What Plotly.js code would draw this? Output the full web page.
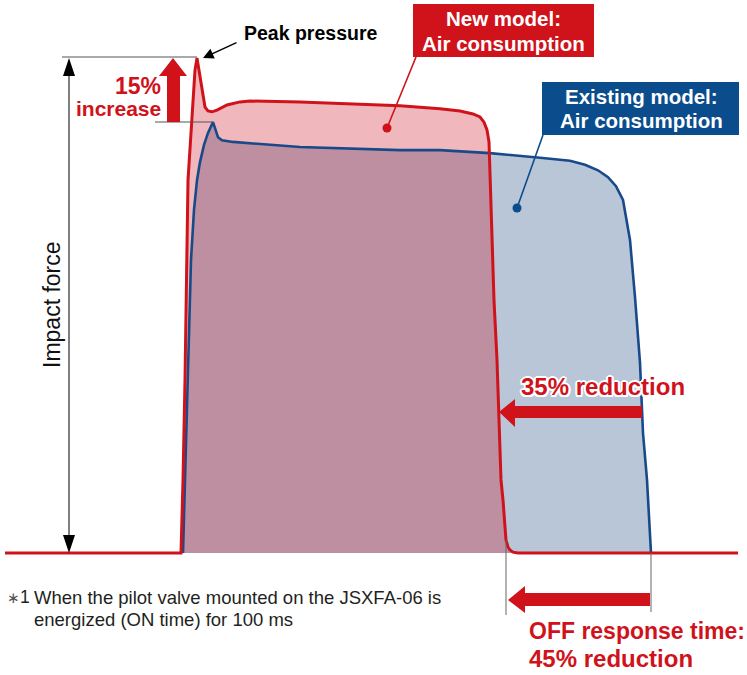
<!DOCTYPE html>
<html><head><meta charset="utf-8">
<script src="https://cdn.plot.ly/plotly-3.0.1.min.js"></script>
<style>html,body{margin:0;padding:0;background:#fff;}#chart{width:747px;height:675px;}</style>
</head><body><div id="chart"></div>
<script>
// New model (red) impact force trace: time (px units) and force (blue peak = 100)
const newTime  = [5, 181, 183, 185, 188, 190, 193, 195, 197, 199, 203, 205, 208, 212, 217, 227, 240, 250, 300, 350, 400, 440, 460, 473, 480, 484, 487, 489, 491, 494, 497, 499, 501, 503, 506, 508, 510, 513, 518, 738];
const newForce = [0, 0, 17.0, 40.2, 86.7, 93.7, 105.3, 112.3, 115.1, 112.3, 105.8, 103.7, 102.8, 102.6, 103.0, 104.2, 104.9, 105.1, 104.9, 104.4, 104.0, 103.3, 102.8, 102.1, 101.4, 100.2, 98.4, 95.6, 79.8, 58.8, 44.9, 30.9, 17.0, 12.3, 3.0, 1.4, 0.7, 0.2, 0, 0];
// Existing model (blue)
const oldTime  = [183, 185, 188, 191, 194, 197, 200, 204, 208, 213, 215, 218, 222, 233, 300, 400, 440, 490, 540, 570, 585, 598, 608, 616, 623, 630, 635, 640, 643, 647, 651];
const oldForce = [0, 17.0, 47.2, 68.1, 79.8, 86.7, 90.9, 94.9, 97.7, 100.2, 98.8, 96.7, 96.0, 95.6, 94.4, 93.7, 93.7, 93.0, 91.9, 91.2, 90.3, 89.0, 87.4, 85.3, 82.1, 72.8, 59.5, 44.2, 27.9, 17.0, 0];

const boxNew = ['New model:', 'Air consumption'];
const boxOld = ['Existing model:', 'Air consumption'];
const peakLabel = 'Peak pressure';
const incLabel = ['15%', 'increase'];
const axisLabel = 'Impact force';
const redLabel1 = '35% reduction';
const redLabel2 = ['OFF response time:', '45% reduction'];
const footnote = ['<span style="font-size:15px;fill:#555">\u2217</span>1', 'When the pilot valve mounted on the JSXFA-06 is', 'energized (ON time) for 100 ms'];

const W = 747, H = 675;
const RED = '#d0121b', BLUE = '#184a8a', BOXBLUE = '#0b4d8c';
const FONT = 'Liberation Sans, Arial, Helvetica, sans-serif';
const px = x => x / W;
const py = y => 1 - y / H;
const poly = pts => 'M' + pts.map(p => px(p[0]) + ',' + py(p[1])).join(' L') + ' Z';
const line = (x0, y0, x1, y1, color, width) => ({type: 'line', xref: 'paper', yref: 'paper', x0: px(x0), y0: py(y0), x1: px(x1), y1: py(y1), line: {color: color, width: width}});
const path = (pts, color) => ({type: 'path', xref: 'paper', yref: 'paper', path: poly(pts), fillcolor: color, line: {width: 0}});
const rect = (x0, y0, x1, y1, color) => ({type: 'rect', xref: 'paper', yref: 'paper', x0: px(x0), y0: py(y0), x1: px(x1), y1: py(y1), fillcolor: color, line: {width: 0}});
const circ = (x, y, r, color) => ({type: 'circle', xref: 'paper', yref: 'paper', x0: px(x - r), y0: py(y + r), x1: px(x + r), y1: py(y - r), fillcolor: color, line: {width: 0}});
const txt = (text, x, y, size, color, opts) => Object.assign({
  text: text, xref: 'paper', yref: 'paper', x: px(x), y: py(y), showarrow: false,
  xanchor: 'center', yanchor: 'middle', font: {family: FONT, size: size, color: color}
}, opts || {});
const bold = (size, color, extra) => Object.assign({family: FONT, size: size, color: color, weight: 'bold'}, extra || {});

const outline = '2px 0 0 #fff, -2px 0 0 #fff, 0 2px 0 #fff, 0 -2px 0 #fff, 1.5px 1.5px 0 #fff, -1.5px -1.5px 0 #fff, 1.5px -1.5px 0 #fff, -1.5px 1.5px 0 #fff';

const traces = [
  {x: oldTime, y: oldForce, type: 'scatter', mode: 'lines', fill: 'tozeroy', fillcolor: 'rgb(185,198,216)', line: {width: 0}, hoverinfo: 'skip'},
  {x: newTime, y: newForce, type: 'scatter', mode: 'lines', fill: 'tozeroy', fillcolor: 'rgba(201,1,16,0.28)', line: {width: 0}, hoverinfo: 'skip'},
  {x: oldTime, y: oldForce, type: 'scatter', mode: 'lines', line: {color: BLUE, width: 2.6}, hoverinfo: 'skip'},
  {x: newTime, y: newForce, type: 'scatter', mode: 'lines', line: {color: RED, width: 3}, hoverinfo: 'skip'}
];

const shapes = [
  // impact force axis
  line(62, 57, 197, 57, '#555', 1.2),
  line(155, 122, 213, 122, '#555', 1.2),
  line(69, 70, 69, 540, '#000', 1),
  path([[69, 58], [63, 76], [75, 76]], '#000'),
  path([[69, 553], [63, 535], [75, 535]], '#000'),
  // 15% up arrow
  path([[173, 58], [187, 76], [180, 76], [180, 122], [167, 122], [167, 76], [159, 76]], RED),
  // 35% arrow
  path([[499, 412], [515, 399], [515, 406], [642, 406], [642, 418], [515, 418], [515, 427]], RED),
  // OFF response arrow
  line(506, 540, 506, 615, '#666', 1),
  line(651, 553, 651, 612, '#666', 1),
  path([[508, 600], [525, 586], [525, 593], [650, 593], [650, 606], [525, 606], [525, 613]], RED),
  // callout boxes
  rect(413, 4, 594, 57, RED),
  line(416, 57, 387, 128, RED, 1.6),
  circ(387, 128, 4.5, RED),
  rect(542, 82, 739, 135, BOXBLUE),
  line(543, 135, 517, 208, BOXBLUE, 1.6),
  circ(517, 208, 4.5, BOXBLUE)
];

const annotations = [
  txt(boxNew[0], 504, 19, 20.5, '#fff', {font: bold(20.5, '#fff')}),
  txt(boxNew[1], 504, 43, 20.5, '#fff', {font: bold(20.5, '#fff')}),
  txt(boxOld[0], 641, 97, 20.5, '#fff', {font: bold(20.5, '#fff')}),
  txt(boxOld[1], 641, 120, 20.5, '#fff', {font: bold(20.5, '#fff')}),
  txt(peakLabel, 242, 33, 19.5, '#000', {xanchor: 'left', font: bold(19.5, '#000')}),
  {x: px(203), y: py(58), xref: 'paper', yref: 'paper', text: '', showarrow: true, ax: 35, ay: -16,
   arrowhead: 2, arrowsize: 1.4, arrowwidth: 1.5, arrowcolor: '#000', standoff: 0},
  txt(incLabel[0], 163, 86, 23, RED, {xanchor: 'right', font: bold(23, RED)}),
  txt(incLabel[1], 163, 108, 21, RED, {xanchor: 'right', font: bold(21, RED)}),
  txt(axisLabel, 52, 305, 23, '#111', {textangle: -90}),
  txt(redLabel1, 519, 386, 24, RED, {xanchor: 'left', font: bold(24, RED, {shadow: outline})}),
  txt(redLabel2[0], 527, 631, 23, RED, {xanchor: 'left', font: bold(23, RED)}),
  txt(redLabel2[1], 527, 658, 24, RED, {xanchor: 'left', font: bold(24, RED)}),
  txt(footnote[0], 5, 597, 17.5, '#231f20', {xanchor: 'left'}),
  txt(footnote[1], 32, 597, 18.5, '#231f20', {xanchor: 'left'}),
  txt(footnote[2], 32, 619, 18.5, '#231f20', {xanchor: 'left'})
];

const layout = {
  width: W, height: H, margin: {l: 0, r: 0, t: 0, b: 0},
  paper_bgcolor: '#fff', plot_bgcolor: '#fff', showlegend: false,
  xaxis: {range: [0, 747], visible: false, fixedrange: true},
  yaxis: {range: [-28.37, 128.60], visible: false, fixedrange: true},
  shapes: shapes, annotations: annotations
};
Plotly.newPlot('chart', traces, layout, {staticPlot: true, displayModeBar: false});
</script>
</body></html>
